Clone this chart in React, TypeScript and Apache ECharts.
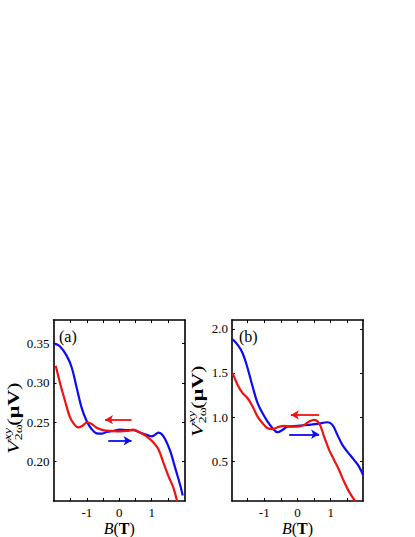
import React, { useEffect, useRef } from "react";
import * as echarts from "echarts";

// ---------- data ----------
// panel (a)
const aBlueB = [-2.0, -1.835, -1.63, -1.47, -1.32, -1.165, -1.01, -0.856, -0.7, -0.546, -0.39, -0.186, 0.02, 0.227, 0.43, 0.64, 0.845, 1.0, 1.1, 1.206, 1.31, 1.41, 1.57, 1.72, 1.876, 1.96];
const aBlueV = [0.35, 0.3466, 0.335, 0.32, 0.295, 0.269, 0.252, 0.2415, 0.236, 0.2355, 0.2377, 0.239, 0.2406, 0.24, 0.24, 0.237, 0.234, 0.232, 0.234, 0.237, 0.235, 0.229, 0.214, 0.193, 0.171, 0.157];
const aRedB = [-1.96, -1.835, -1.68, -1.526, -1.4, -1.27, -1.134, -0.99, -0.856, -0.7, -0.495, -0.237, 0.02, 0.227, 0.43, 0.64, 0.845, 1.05, 1.206, 1.36, 1.515, 1.67, 1.79];
const aRedV = [0.322, 0.301, 0.278, 0.257, 0.248, 0.2436, 0.2457, 0.25, 0.248, 0.243, 0.24, 0.239, 0.2385, 0.239, 0.2406, 0.237, 0.232, 0.2245, 0.216, 0.199, 0.182, 0.167, 0.149];
// panel (b)
const bBlueB = [-1.95, -1.8, -1.65, -1.5, -1.35, -1.2, -1.05, -0.9, -0.75, -0.6, -0.45, -0.3, 0, 0.3, 0.6, 0.9, 1.05, 1.2, 1.35, 1.5, 1.7, 1.85, 1.97];
const bBlueV = [1.883, 1.819, 1.724, 1.554, 1.346, 1.158, 1.044, 0.95, 0.874, 0.829, 0.855, 0.893, 0.901, 0.912, 0.923, 0.942, 0.912, 0.799, 0.685, 0.61, 0.515, 0.44, 0.345];
const bRedB = [-1.95, -1.8, -1.65, -1.5, -1.35, -1.2, -1.05, -0.9, -0.75, -0.6, -0.4, -0.2, 0, 0.2, 0.35, 0.5, 0.65, 0.8, 0.95, 1.1, 1.25, 1.4, 1.55, 1.7, 1.76];
const bRedV = [1.498, 1.365, 1.271, 1.214, 1.12, 1.006, 0.931, 0.874, 0.863, 0.886, 0.901, 0.893, 0.893, 0.912, 0.95, 0.969, 0.931, 0.78, 0.629, 0.515, 0.402, 0.27, 0.156, 0.069, 0.04];

// sweep arrows: [startB, endB, V]
const aRedArrow = [0.38, -0.44, 0.2534];
const aBlueArrow = [-0.34, 0.38, 0.2266];
const bRedArrow = [0.65, -0.2, 1.025];
const bBlueArrow = [-0.25, 0.65, 0.806];

// axes
const aXRange = [-2.03, 2.03];
const aYRange = [0.15, 0.38];
const bXRange = [-1.97, 1.97];
const bYRange = [0.05, 2.1];
const xTicks = [-1.5, -1, -0.5, 0, 0.5, 1, 1.5];
const xLabels = [-1, 0, 1];
const aYTicks = [0.2, 0.25, 0.3, 0.35];
const bYTicks = [0.5, 1.0, 1.5, 2.0];
const panelLetters = ["(a)", "(b)"];

const FONT = "Liberation Serif";
const BLUE = "#0b0bf5";
const RED = "#f21010";

const zip = (xs: number[], ys: number[]) => xs.map((x, i) => [x, ys[i]]);

export default function App() {
  const ref = useRef<HTMLDivElement>(null);
  useEffect(() => {
    const chart = echarts.init(ref.current!, null, { renderer: "svg" });

    const nameRich = {
      i: { fontFamily: FONT, fontSize: 16, fontStyle: "italic", color: "#000" },
      n: { fontFamily: FONT, fontSize: 16, color: "#000" },
      b: { fontFamily: FONT, fontSize: 16, fontWeight: "bold", color: "#000" },
    };
    const tickRich = { t: { fontFamily: FONT, fontSize: 13, color: "#000" } };

    const xAxisFor = (gridIndex: number, range: number[], bottom: boolean) => ({
      type: "value",
      gridIndex,
      position: bottom ? "bottom" : "top",
      min: range[0],
      max: range[1],
      axisLine: { show: true, onZero: false, lineStyle: { color: "#000", width: 1.6 } },
      axisTick: { show: true, inside: true, length: 3, customValues: xTicks, lineStyle: { color: "#000", width: 1 } },
      axisLabel: bottom
        ? {
            show: true,
            customValues: xLabels,
            formatter: (v: number) => `{t|${v}}`,
            rich: tickRich,
            fontFamily: FONT,
            fontSize: 13,
            color: "#000",
            margin: 5,
          }
        : { show: false },
      splitLine: { show: false },
      name: bottom ? "{i|B}{n|(}{b|T}{n|)}" : "",
      nameLocation: "middle",
      nameGap: 19,
      nameTextStyle: { rich: nameRich },
    });

    const yAxisFor = (gridIndex: number, range: number[], ticks: number[], dec: number, left: boolean) => ({
      type: "value",
      gridIndex,
      position: left ? "left" : "right",
      min: range[0],
      max: range[1],
      axisLine: { show: true, onZero: false, lineStyle: { color: "#000", width: 1.6 } },
      axisTick: { show: true, inside: true, length: 3, customValues: ticks, lineStyle: { color: "#000", width: 1 } },
      axisLabel: left
        ? {
            show: true,
            customValues: ticks,
            formatter: (v: number) => `{t|${v.toFixed(dec)}}`,
            rich: tickRich,
            fontFamily: FONT,
            fontSize: 13,
            color: "#000",
            margin: 4,
          }
        : { show: false },
      splitLine: { show: false },
    });

    const curve = (xi: number, data: number[][], color: string, arrow: number[]) => ({
      type: "line",
      xAxisIndex: xi,
      yAxisIndex: xi,
      data,
      showSymbol: false,
      smooth: 0.4,
      lineStyle: { color, width: 2.2 },
      itemStyle: { color },
      markLine: {
        silent: true,
        symbol: ["none", "arrow"],
        symbolSize: [7, 8],
        label: { show: false },
        lineStyle: { color, width: 1.8, type: "solid" },
        data: [[{ coord: [arrow[0], arrow[2]] }, { coord: [arrow[1], arrow[2]] }]],
      },
    });

    const yLabel = (gx: number, gy: number) => ({
      type: "group",
      x: gx,
      y: gy,
      rotation: Math.PI / 2,
      scaleX: 1.38,
      children: [
        {
          type: "text",
          x: 0,
          y: 0,
          style: { text: "V", font: `italic 16px ${FONT}`, fill: "#000", align: "left", verticalAlign: "middle" },
        },
        {
          type: "text",
          x: 10,
          y: -6,
          style: { text: "xy", font: `italic 10px ${FONT}`, fill: "#000", align: "left", verticalAlign: "middle" },
        },
        {
          type: "text",
          x: 10,
          y: 5,
          style: { text: "2ω", font: `10px ${FONT}`, fill: "#000", align: "left", verticalAlign: "middle" },
        },
        {
          type: "text",
          x: 20.5,
          y: 0,
          style: {
            text: "{n|(}{b|μV}{n|)}",
            align: "left",
            verticalAlign: "middle",
            rich: {
              n: { fontFamily: FONT, fontSize: 16, fill: "#000" },
              b: { fontFamily: FONT, fontSize: 16, fontWeight: "bold", fill: "#000" },
            },
          },
        },
      ],
    });

    chart.setOption({
      animation: false,
      backgroundColor: "#fff",
      textStyle: { fontFamily: FONT, color: "#000" },
      grid: [
        { left: 53.5, top: 320, width: 131.5, height: 181 },
        { left: 232, top: 320, width: 131, height: 181 },
      ],
      xAxis: [
        xAxisFor(0, aXRange, true),
        xAxisFor(0, aXRange, false),
        xAxisFor(1, bXRange, true),
        xAxisFor(1, bXRange, false),
      ],
      yAxis: [
        yAxisFor(0, aYRange, aYTicks, 2, true),
        yAxisFor(0, aYRange, aYTicks, 2, false),
        yAxisFor(1, bYRange, bYTicks, 1, true),
        yAxisFor(1, bYRange, bYTicks, 1, false),
      ],
      series: [
        curve(0, zip(aBlueB, aBlueV), BLUE, aBlueArrow),
        curve(0, zip(aRedB, aRedV), RED, aRedArrow),
        curve(2, zip(bBlueB, bBlueV), BLUE, bBlueArrow),
        curve(2, zip(bRedB, bRedV), RED, bRedArrow),
      ],
      graphic: [
        { type: "text", left: 59, top: 328, style: { text: panelLetters[0], font: `16px ${FONT}`, fill: "#000" } },
        { type: "text", left: 239, top: 328, style: { text: panelLetters[1], font: `16px ${FONT}`, fill: "#000" } },
        yLabel(13.5, 454),
        yLabel(198, 437),
      ],
    });
    return () => chart.dispose();
  }, []);
  return (
    <div
      ref={ref}
      style={{ position: "fixed", left: 0, top: 0, width: 415, height: 537, background: "#fff" }}
    />
  );
}
